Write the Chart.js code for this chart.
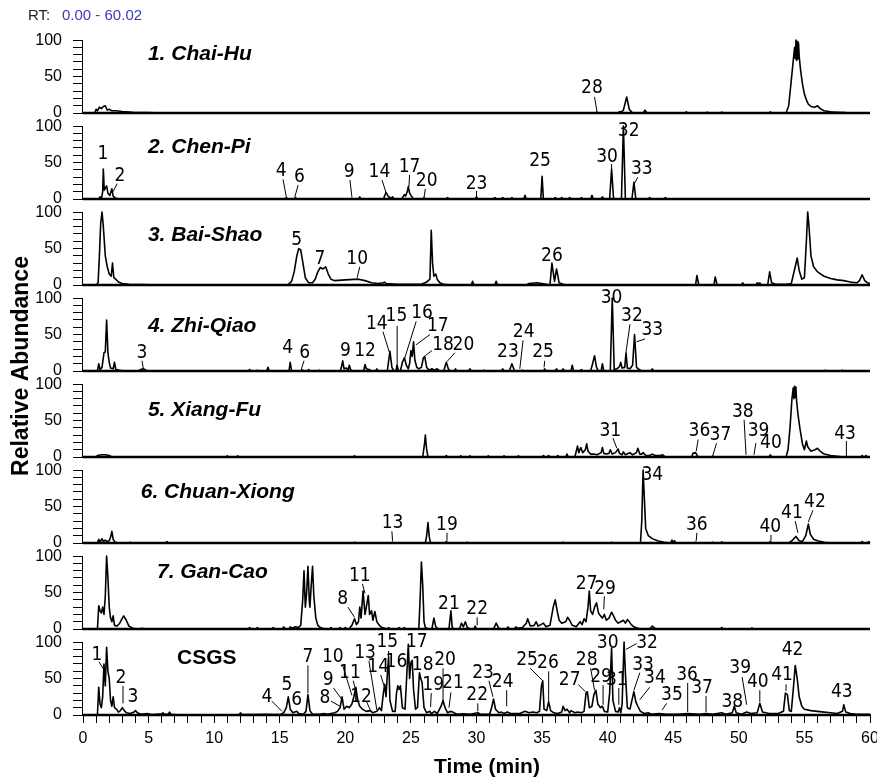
<!DOCTYPE html>
<html>
<head>
<meta charset="utf-8">
<script src="https://cdn.jsdelivr.net/npm/chart.js@4"></script>
<style>
  html, body { margin: 0; padding: 0; background: #fff; }
  #wrap { position: relative; width: 877px; height: 780px; }
</style>
</head>
<body>
<div id="wrap"><canvas id="chart" width="877" height="780"></canvas></div>
<script>
// panels from top to bottom
const panelNames = ['1. Chai-Hu', '2. Chen-Pi', '3. Bai-Shao', '4. Zhi-Qiao', '5. Xiang-Fu', '6. Chuan-Xiong', '7. Gan-Cao', 'CSGS']

// tick labels
const timeLabels = [0, 5, 10, 15, 20, 25, 30, 35, 40, 45, 50, 55, 60]
const abundanceLabels = [0, 50, 100]

// traces: [time (min), relative abundance (%)]
const chaiHu = [[0,0],[0.9,0],[1.0,5],[1.1,3],[1.25,8],[1.4,6],[1.55,9],[1.7,10],[1.85,4],[2.0,5],[2.2,3],[2.5,3],[3.0,2],[3.8,1],[5.0,0.5],[6.0,0],
  [39.1,0],[39.2,1],[39.3,0],[40.8,0],[40.9,2],[41.0,1],[41.2,4],[41.45,22],[41.65,5],[41.9,0],[42.7,0],[42.85,4],[43.0,0],
  [45.9,0],[46.0,1.5],[46.1,0],[47.5,0],[47.6,1.2],[47.7,0],[48.6,0],[48.7,1.2],[48.8,0],[52.3,0],[52.4,1.5],[52.5,0],
  [53.6,0],[53.8,10],[54.0,45],[54.15,72],[54.25,90],[54.3,75],[54.35,100],[54.4,72],[54.45,98],[54.5,74],[54.55,96],[54.6,78],[54.7,60],[54.85,40],[55.0,26],[55.15,18],[55.3,12],[55.5,9],[55.8,8],[56.0,10],[56.2,6],[56.5,3],[57.0,1.5],[57.5,1],[58.2,0.5],[60,0]]

const chenPi = [[0,0],[1.2,0],[1.3,3],[1.4,0],[1.5,10],[1.55,41],[1.62,12],[1.7,15],[1.8,18],[1.9,8],[2.05,5],[2.2,14],[2.3,4],[2.5,1],[2.8,0],
  [15.4,0],[15.5,2],[15.6,0],[16.1,0],[16.2,2],[16.3,0],[20.4,0],[20.5,1],[20.6,0],[21.0,0],[21.1,3],[21.2,0],
  [22.9,0],[23.1,9],[23.3,3],[23.5,1],[23.6,3],[23.7,0],[24.3,0],[24.5,6],[24.6,4],[24.75,12],[24.8,17],[24.9,8],[25.0,5],[25.2,0],
  [25.9,0],[26.0,2],[26.1,0],[27.7,0],[27.8,2],[27.9,0],[29.9,0],[30.0,3],[30.1,0],
  [31.3,0],[31.4,2],[31.5,0],[31.9,0],[32.0,2],[32.1,0],[32.6,0],[32.7,2],[32.8,0],[33.6,0],[33.7,5],[33.8,0],
  [34.9,0],[35.0,31],[35.1,0],[35.9,0],[36.0,2],[36.1,0],[36.4,0],[36.5,2],[36.6,0],[37.0,0],[37.1,2],[37.2,0],[37.9,0],[38.0,2],[38.1,0],[38.7,0],[38.8,5],[38.9,0],[39.5,0],[39.6,3],[39.7,0],
  [40.15,0],[40.3,41],[40.45,0],[41.05,0],[41.2,100],[41.35,0],[41.85,0],[42.0,23],[42.15,0],
  [43.1,0],[43.2,2],[43.3,0],[44.3,0],[44.4,2],[44.5,0],[60,0]]

const baiShao = [[0,0],[1.0,0],[1.15,3],[1.25,40],[1.35,85],[1.45,100],[1.55,80],[1.7,40],[1.85,25],[2.0,15],[2.15,12],[2.25,30],[2.35,10],[2.5,8],[2.7,4],[3.0,2],[3.5,1],[4.5,0.5],[6.0,0],
  [15.6,0],[15.9,5],[16.1,18],[16.3,40],[16.45,50],[16.6,48],[16.75,32],[16.95,10],[17.2,3],[17.5,3],[17.7,8],[17.9,18],[18.1,24],[18.3,22],[18.5,25],[18.7,15],[18.9,8],[19.2,6],[20.0,7],[21.0,8],[21.5,6],[22.0,3],[22.5,2],[22.9,3],[23.0,4],[23.1,2],[24.0,1],[25.0,1],[25.8,1],[26.2,4],[26.45,8],
  [26.55,75],[26.65,30],[26.75,12],[26.9,15],[27.0,8],[27.2,3],[27.5,1],[28.0,0],
  [29.6,0],[29.7,5],[29.8,0],[31.4,0],[31.5,5],[31.6,0],[33.8,0],[34.0,2],[34.6,3],[35.0,2],[35.3,1],[35.6,0],[35.75,30],[35.95,5],[36.1,22],[36.3,3],[36.6,1],[37.0,0],
  [46.7,0],[46.8,13],[46.95,0],[48.1,0],[48.2,11],[48.35,0],[50.2,0],[50.3,3],[50.4,0],[51.3,0],[51.4,3],[51.5,1.5],[51.6,3],[51.7,0],
  [52.2,0],[52.35,18],[52.5,3],[52.8,1],[53.6,1],[54.0,2],[54.3,25],[54.45,37],[54.6,20],[54.8,8],[55.0,10],[55.15,60],[55.25,100],[55.35,80],[55.5,40],[55.7,25],[56.0,18],[56.5,12],[57.0,9],[57.5,7],[58.0,6],[58.5,4],[59.0,3],[59.2,6],[59.4,14],[59.6,6],[59.8,3],[60,2]]

const zhiQiao = [[0,0],[1.1,0],[1.2,10],[1.3,2],[1.45,5],[1.6,25],[1.7,26],[1.8,70],[1.9,25],[2.0,12],[2.1,4],[2.3,3],[2.4,12],[2.5,2],[2.8,1],[3.2,0],
  [4.2,0],[4.4,2],[4.6,3],[4.8,1],[5.0,0],[12.6,0],[12.7,2],[12.8,0],[13.2,0],[13.3,1],[13.4,0],[14.0,0],[14.1,5],[14.2,0],
  [15.7,0],[15.8,12],[15.9,0],[16.6,0],[16.7,2],[16.8,0],[17.1,0],[17.2,2],[17.3,0],[17.9,0],[18.0,1],[18.1,0],
  [19.6,0],[19.7,5],[19.8,14],[19.9,3],[20.1,4],[20.2,0],[20.3,8],[20.4,2],[20.5,0],[21.4,0],[21.5,9],[21.6,3],[21.8,2],[22.0,0],[22.3,0],[22.4,3],[22.5,0],
  [23.2,0],[23.4,27],[23.55,5],[23.7,0],[23.85,0],[23.95,8],[24.05,0],[24.2,0],[24.35,12],[24.5,18],[24.65,8],[24.8,3],
  [24.9,10],[25.0,28],[25.1,20],[25.2,40],[25.3,15],[25.45,5],[25.6,3],[25.8,5],[25.95,18],[26.05,20],[26.2,5],[26.4,1],[26.6,3],[26.8,1],[27.0,3],[27.2,0],
  [27.5,0],[27.7,12],[27.85,3],[28.0,0],[28.3,0],[28.4,3],[28.5,0],[29.4,0],[29.5,3],[29.6,0],[30.5,0],[30.6,1],[30.7,0],
  [31.9,0],[32.0,3],[32.1,0],[32.5,0],[32.7,10],[32.9,0],[33.4,0],[33.5,1],[33.6,0],
  [35.1,0],[35.2,3],[35.3,0],[36.0,0],[36.1,3],[36.2,0],[36.5,0],[36.6,3],[36.7,0],[37.2,0],[37.3,8],[37.4,0],[37.9,0],[38.0,2],[38.1,0],
  [38.7,0],[38.85,10],[39.0,21],[39.15,5],[39.3,0],[39.5,0],[39.6,10],[39.7,0],
  [40.2,0],[40.35,100],[40.5,2],[40.7,3],[40.9,6],[41.0,12],[41.1,4],[41.3,5],[41.4,25],[41.5,4],[41.7,3],[41.9,8],[42.05,50],[42.2,5],[42.4,2],[42.6,0],
  [43.3,0],[43.4,3],[43.5,0],[56.5,0],[56.6,1],[56.7,0],[57.8,0],[57.9,1],[58.0,0],[60,0]]

const xiangFu = [[0,0],[1.0,0],[1.1,2],[1.4,3],[1.7,3],[2.0,2],[2.2,0],
  [10.9,0],[11.0,1.5],[11.1,0],[11.7,0],[11.8,1.5],[11.9,0],[20.6,0],[20.7,1.5],[20.8,0],
  [25.9,0],[26.05,20],[26.1,30],[26.2,10],[26.3,0],
  [27.6,0],[27.7,2],[27.8,0],[28.7,0],[28.8,1.5],[28.9,0],[29.4,0],[29.5,1.5],[29.6,0],[30.8,0],[30.9,1.5],[31.0,0],[32.0,0],[32.1,1.5],[32.2,0],[33.1,0],[33.2,1.5],[33.3,0],
  [35.0,0],[35.1,2],[35.2,0],[35.4,0],[35.5,2],[35.6,0],[36.1,0],[36.2,2],[36.3,0],[36.8,0],[36.9,4],[37.0,0],
  [37.5,0],[37.7,15],[37.8,6],[37.95,13],[38.1,6],[38.3,10],[38.4,18],[38.5,8],[38.7,4],[38.9,4],[39.2,3],[39.5,6],[39.6,13],[39.7,5],[39.9,4],[40.1,5],[40.2,10],[40.35,4],[40.6,6],[40.8,11],[40.9,5],[41.1,3],[41.2,7],[41.35,3],[41.6,5],[41.7,6],[41.9,3],[42.2,6],[42.3,12],[42.45,4],[42.6,4],[42.7,6],[42.9,2],[43.2,2],[43.4,4],[43.6,2],[44.0,2],[44.2,3],[44.4,0],
  [46.4,0],[46.5,5],[46.7,6],[46.9,0],[47.9,0],[48.0,1],[48.1,0],[52.3,0],[52.4,3],[52.5,0],
  [53.6,0],[53.75,10],[53.9,40],[54.05,80],[54.15,95],[54.2,80],[54.25,97],[54.3,82],[54.35,96],[54.4,78],[54.5,60],[54.65,40],[54.85,18],[55.0,10],[55.15,22],[55.25,14],[55.5,8],[55.8,10],[56.0,12],[56.2,8],[56.5,4],[57.0,2],[57.5,1],[58.0,0],
  [59.3,0],[59.4,2],[59.5,0],[59.6,0],[59.7,2],[59.8,0],[60,0]]

const chuanXiong = [[0,0],[1.1,0],[1.2,5],[1.3,1],[1.45,6],[1.55,2],[1.7,4],[1.85,2],[2.0,3],[2.1,8],[2.2,16],[2.3,5],[2.45,1],[2.7,0],
  [3.5,0],[3.6,1],[3.7,0],[6.3,0],[6.4,2],[6.5,0],[20.6,0],[20.7,1],[20.8,0],[23.5,0],[23.6,1],[23.7,0],
  [26.1,0],[26.2,10],[26.3,28],[26.4,8],[26.5,0],
  [27.6,0],[27.7,2],[27.8,0],[29.2,0],[29.3,1],[29.4,0],[36.5,0],[36.6,1],[36.7,0],[40.2,0],[40.3,1],[40.4,0],
  [42.5,0],[42.6,30],[42.7,100],[42.8,60],[42.9,20],[43.1,10],[43.4,6],[43.8,3],[44.3,1],[44.8,0],[44.9,4],[45.0,1],[45.1,3],[45.2,0],
  [46.6,0],[46.7,1],[46.8,0],[47.9,0],[48.0,1],[48.1,0],[48.6,0],[48.7,1.5],[48.8,0],[52.3,0],[52.4,2],[52.5,0],
  [53.8,0],[54.1,4],[54.35,9],[54.6,3],[54.85,2],[55.1,10],[55.3,26],[55.45,12],[55.7,5],[56.0,3],[56.5,1],[57.0,0],
  [59.3,0],[59.4,2],[59.5,0],[59.8,0],[59.9,2],[60,0]]

const ganCao = [[0,0],[1.1,0],[1.2,32],[1.3,25],[1.4,22],[1.5,30],[1.6,20],[1.7,45],[1.8,100],[1.9,70],[2.0,30],[2.1,15],[2.2,10],[2.3,18],[2.4,5],[2.6,4],[2.8,8],[3.0,15],[3.1,18],[3.3,12],[3.5,4],[3.8,1],[4.2,0],[4.5,1],[4.7,0],
  [12.6,0],[12.7,2],[12.8,0],[13.2,0],[13.3,2],[13.4,0],[14.4,0],[14.5,2],[14.6,0],[15.2,0],[15.3,3],[15.4,0],[15.7,0],[15.8,3],[15.9,1],[16.2,3],[16.4,2],
  [16.6,5],[16.75,40],[16.85,80],[16.95,30],[17.05,50],[17.15,86],[17.25,40],[17.3,30],[17.4,60],[17.5,86],[17.6,45],[17.75,15],[17.9,5],[18.1,2],[18.4,0],
  [18.8,0],[18.9,2],[19.0,0],[19.5,0],[19.6,2],[19.7,0],[19.9,0],[20.0,2],[20.1,0],[20.3,0],[20.4,3],[20.5,5],
  [20.7,14],[20.85,6],[21.0,10],[21.1,30],[21.2,15],[21.35,52],[21.5,20],[21.6,30],[21.75,46],[21.85,20],[22.0,25],[22.1,12],[22.25,24],[22.4,10],[22.6,5],[22.8,2],[23.0,1],
  [23.2,0],[23.3,2],[23.4,0],[24.0,0],[24.1,2],[24.2,0],[24.4,0],[24.5,2],[24.6,0],
  [25.6,0],[25.7,40],[25.8,92],[25.9,60],[26.0,10],[26.1,2],[26.3,0],[26.6,0],[26.75,15],[26.9,3],[27.1,0],
  [27.9,0],[28.05,25],[28.15,2],[28.3,0],[28.7,0],[28.85,8],[29.0,3],[29.15,10],[29.3,2],[29.5,0],[29.8,0],[29.9,4],[30.0,0],
  [31.3,0],[31.5,8],[31.7,1],[32.0,0],[32.3,0],[32.4,3],[32.5,0],[32.9,0],[33.0,3],[33.1,1],[33.5,2],[33.8,8],[33.9,14],[34.1,4],[34.4,5],[34.55,10],[34.7,4],[34.9,6],[35.1,8],[35.3,3],[35.6,5],
  [35.85,30],[36.0,40],[36.15,25],[36.3,12],[36.5,8],[36.8,10],[36.95,16],[37.1,12],[37.3,5],[37.6,3],[37.9,10],[38.05,6],[38.2,14],[38.35,10],
  [38.5,30],[38.6,52],[38.7,25],[38.85,20],[39.0,30],[39.15,36],[39.3,22],[39.45,18],[39.6,15],[39.75,20],[39.9,12],[40.1,15],[40.3,23],[40.45,18],[40.6,12],[40.8,8],[41.0,10],[41.2,12],[41.35,8],[41.5,13],[41.65,10],[41.8,6],[42.0,3],[42.3,1],[42.6,0],
  [43.2,0],[43.4,4],[43.6,1],[43.8,0],[48.6,0],[48.7,2],[48.8,0],[50.9,0],[51.0,1.5],[51.1,0],[60,0]]

const csgs = [[0,0],[1.1,0],[1.2,38],[1.3,15],[1.4,10],[1.5,25],[1.6,70],[1.7,40],[1.8,93],[1.9,60],[2.0,50],[2.1,20],[2.2,12],[2.3,25],[2.4,10],[2.55,8],[2.7,4],[2.85,6],[3.0,10],[3.15,6],[3.3,3],[3.6,2],[3.9,4],[4.0,6],[4.15,3],[4.4,1],[4.9,2],[5.2,0.5],[5.6,1],[6.0,1.5],[6.1,3],[6.2,1],[6.5,1],[6.6,4],[6.7,1],[7.0,0.5],[8.0,0],
  [11.9,0],[12.0,3],[12.1,0.5],[13.0,0.5],[14.0,1],[14.5,0.5],[15.1,1],[15.3,3],[15.5,10],[15.65,25],[15.8,8],[16.0,3],[16.3,5],[16.45,2],[16.8,1],[17.0,5],[17.15,28],[17.3,6],[17.5,1],[18.0,1],[18.4,2],[18.6,1],
  [19.2,3],[19.4,5],[19.6,10],[19.75,25],[19.9,8],[20.1,12],[20.3,10],[20.5,15],[20.65,25],[20.8,38],[20.95,20],[21.1,12],[21.3,8],[21.6,5],[21.9,6],[22.1,3],[22.4,5],[22.6,10],[22.75,6],
  [22.9,30],[23.0,42],[23.1,25],[23.2,55],[23.3,80],[23.4,20],[23.6,5],[23.8,5],[23.9,30],[24.0,40],[24.1,35],[24.2,40],[24.35,10],[24.55,8],[24.7,60],[24.8,97],[24.9,50],[25.0,72],[25.1,75],[25.2,35],[25.35,8],[25.5,10],[25.65,58],[25.75,50],[25.85,45],[26.0,10],[26.2,3],
  [26.45,5],[26.55,2],[26.8,5],[27.0,2],[27.3,12],[27.45,20],[27.6,10],[27.8,3],[28.0,5],[28.2,4],[28.5,1],[29.0,1.5],[29.5,1],[30.1,3],[30.3,1],[31.0,1],[31.15,10],[31.3,22],[31.45,8],[31.7,3],[31.9,4],[32.1,2],[32.35,4],[32.6,2],[33.0,2],[33.3,2],[33.7,5],[34.0,3],[34.3,4],[34.6,3],[34.8,5],
  [34.95,40],[35.05,47],[35.15,8],[35.35,6],[35.5,18],[35.65,6],[35.9,3],[36.2,2],[36.5,4],[36.6,12],[36.75,6],[36.9,8],[37.1,3],[37.2,6],[37.5,3],[37.7,4],[38.0,3],[38.2,5],[38.35,30],[38.45,32],[38.6,10],[38.8,12],[38.95,28],[39.1,34],[39.25,15],[39.45,10],[39.6,12],[39.75,5],[40.0,4],
  [40.15,30],[40.3,92],[40.4,20],[40.6,5],[40.8,4],[40.9,10],[41.0,3],[41.1,15],[41.25,100],[41.35,58],[41.5,10],[41.7,8],[41.85,20],[42.0,32],[42.15,18],[42.3,12],[42.5,5],[42.8,2],[43.1,3],[43.3,1],[43.9,2],[44.5,1],[45.3,1],[46.1,2],[47.0,1],[47.5,2],[48.0,1],[48.7,3],[49.0,1],
  [49.5,3],[49.65,12],[49.8,3],[50.2,1],[50.6,4],[50.9,2],[51.4,3],[51.6,16],[51.8,4],[52.3,2],[53.0,2],[53.4,5],[53.55,30],[53.7,28],[53.85,6],[54.0,5],[54.15,35],[54.3,68],[54.45,50],[54.6,25],[54.8,12],[55.0,8],[55.5,6],[56.0,5],[56.5,4],[57.0,3],[57.5,2],[57.9,5],[58.0,14],[58.15,4],[58.5,2],[59.0,1],[60,1]]

// peak numbers: [text, time, abundance] plus optional leader [t1, a1, t2, a2]
const chaiHuPeaks = [['28', 38.8, 34, 39.0, 22, 39.2, 0]]
const chenPiPeaks = [['1', 1.52, 62], ['2', 2.82, 32, 2.6, 21, 2.29, 10], ['4', 15.1, 38, 15.25, 27, 15.5, 3], ['6', 16.5, 30, 16.4, 19, 16.15, 3],
  ['9', 20.3, 37, 20.35, 26, 20.5, 3], ['14', 22.6, 37, 22.8, 26, 23.1, 9], ['17', 24.9, 44, 24.9, 33, 24.85, 17], ['20', 26.2, 25, 26.1, 14, 26.0, 2],
  ['23', 30.0, 21, 30.0, 11, 30.0, 3], ['25', 34.85, 52], ['30', 39.95, 58, 40.3, 48, 40.3, 41], ['32', 41.6, 93], ['33', 42.6, 41, 42.3, 30, 42.0, 20]]
const baiShaoPeaks = [['5', 16.3, 61], ['7', 18.07, 36], ['10', 20.9, 36, 21.1, 25, 20.9, 10], ['26', 35.75, 40]]
const zhiQiaoPeaks = [['3', 4.5, 24, 4.5, 14, 4.6, 3], ['4', 15.6, 31], ['6', 16.9, 25, 16.85, 14, 16.65, 3], ['9', 20.0, 28], ['12', 21.5, 28],
  ['14', 22.4, 65, 22.87, 54, 23.35, 26], ['15', 23.9, 75, 23.95, 62, 23.95, 3], ['16', 25.85, 79, 25.4, 68, 24.5, 16], ['17', 27.05, 61, 26.45, 50, 25.4, 36],
  ['18', 27.45, 35, 26.6, 28, 26.1, 21], ['20', 29.0, 35, 28.35, 25, 27.75, 13], ['23', 32.4, 26], ['24', 33.6, 54, 33.55, 42, 33.3, 3],
  ['25', 35.07, 26, 35.2, 14, 35.15, 5], ['30', 40.3, 100], ['32', 41.85, 75, 41.7, 64, 41.4, 26], ['33', 43.4, 56, 42.85, 44, 42.2, 40]]
const xiangFuPeaks = [['31', 40.2, 36, 40.4, 26, 40.7, 12], ['36', 47.0, 35, 46.9, 24, 46.75, 8], ['37', 48.6, 30, 48.3, 19, 48.0, 1],
  ['38', 50.3, 62, 50.4, 51, 50.55, 3], ['39', 51.5, 36, 51.3, 19, 51.15, 3], ['40', 52.45, 19], ['43', 58.1, 32, 58.2, 22, 58.2, 1]]
const chuanXiongPeaks = [['13', 23.6, 27, 23.55, 16, 23.6, 3], ['19', 27.75, 25, 27.75, 14, 27.75, 3], ['34', 43.4, 93], ['36', 46.8, 25, 46.8, 14, 46.75, 3],
  ['40', 52.4, 22, 52.45, 11, 52.45, 3], ['41', 54.05, 41, 54.3, 30, 54.5, 14], ['42', 55.8, 56, 55.65, 45, 55.3, 29]]
const ganCaoPeaks = [['8', 19.8, 41, 20.2, 30, 20.7, 16], ['11', 21.1, 73, 21.3, 62, 21.5, 49], ['21', 27.9, 34], ['22', 30.05, 27, 30.05, 16, 30.05, 5],
  ['27', 38.4, 62], ['29', 39.8, 55, 39.75, 45, 39.7, 27]]
const csgsPeaks = [['1', 1.07, 82, 1.22, 73, 1.6, 62], ['2', 2.9, 51, 3.05, 40, 3.05, 16], ['3', 3.8, 25], ['4', 14.03, 25, 14.4, 19, 15.17, 5],
  ['5', 15.55, 41], ['6', 16.3, 21], ['7', 17.15, 79, 17.15, 68, 17.15, 30], ['8', 18.45, 23, 18.9, 19, 19.6, 12], ['9', 18.7, 48, 19.1, 37, 19.75, 21],
  ['10', 19.05, 79, 19.8, 68, 20.5, 27], ['11', 20.35, 58, 20.6, 47, 20.8, 33], ['12', 21.2, 25, 21.6, 19, 21.9, 7], ['13', 21.5, 85, 21.8, 74, 22.4, 7],
  ['14', 22.5, 66, 22.7, 55, 22.95, 40], ['15', 23.2, 100, 23.3, 88, 23.3, 80], ['16', 23.9, 73], ['17', 25.45, 100], ['18', 25.9, 68],
  ['19', 26.7, 41, 26.55, 30, 26.5, 11], ['20', 27.6, 75, 27.45, 64, 27.45, 20], ['21', 28.2, 44, 28.05, 31, 27.9, 10], ['22', 30.05, 27, 30.1, 16, 30.1, 5],
  ['23', 30.5, 58, 30.95, 47, 31.25, 25], ['24', 32.0, 45, 32.3, 34, 32.3, 12], ['25', 33.85, 75, 34.1, 64, 35.0, 48], ['26', 35.45, 71, 35.5, 60, 35.5, 19],
  ['27', 37.1, 48, 37.75, 42, 38.3, 32], ['28', 38.4, 75, 38.7, 64, 39.0, 34], ['29', 39.5, 52, 39.65, 41, 39.65, 14], ['30', 40.0, 99],
  ['31', 40.7, 48, 40.85, 37, 40.85, 14], ['32', 43.0, 99, 42.2, 98, 41.4, 90], ['33', 42.7, 68, 42.45, 58, 42.0, 34], ['34', 43.6, 51, 43.2, 38, 42.45, 21],
  ['35', 44.9, 27, 44.5, 16, 44.15, 7], ['36', 46.05, 55, 46.1, 44, 46.1, 4], ['37', 47.2, 37, 47.5, 26, 47.5, 4], ['38', 49.5, 18],
  ['39', 50.1, 64, 50.25, 52, 50.6, 14], ['40', 51.45, 45, 51.6, 34, 51.6, 18], ['41', 53.3, 55, 53.6, 42, 53.6, 33], ['42', 54.1, 89], ['43', 57.85, 32]]

const traces = [chaiHu, chenPi, baiShao, zhiQiao, xiangFu, chuanXiong, ganCao, csgs]
const peaks = [chaiHuPeaks, chenPiPeaks, baiShaoPeaks, zhiQiaoPeaks, xiangFuPeaks, chuanXiongPeaks, ganCaoPeaks, csgsPeaks]

// where each panel name sits, in (min, %)
const titleSpots = [[4.95, 81], [4.95, 71], [4.95, 68], [4.95, 61], [4.95, 64], [4.4, 70], [5.64, 78], [7.17, 78]]

const FONT = 'Arial, "Liberation Sans", sans-serif'
const NARROW = '"Liberation Sans Narrow", "Arial Narrow", "DejaVu Sans Condensed", Arial, sans-serif'

const scales = {
  x: {
    type: 'linear', position: 'bottom', min: 0, max: 60,
    ticks: { stepSize: 1, autoSkip: false, maxRotation: 0, padding: 6, color: '#000', font: { family: FONT, size: 16 },
      callback: v => timeLabels.includes(v) ? String(v) : '' },
    grid: { drawOnChartArea: false, tickLength: 8, color: '#000' },
    border: { display: true, color: '#000', width: 2 },
    afterFit: s => { s.height = 65; s.paddingLeft = 0; s.paddingRight = 0 }
  }
}
panelNames.forEach((name, i) => {
  scales['y' + i] = {
    type: 'linear', position: 'left', stack: 'panels', stackWeight: 1, weight: panelNames.length - i,
    min: 0, max: 118,
    afterBuildTicks: s => { s.ticks = s.ticks.filter(t => t.value <= 100) },
    ticks: { stepSize: 10, autoSkip: false, padding: 11, color: '#000', font: { family: FONT, size: 16 },
      callback: v => abundanceLabels.includes(v) ? String(v) : '' },
    grid: { drawOnChartArea: false, tickLength: 10, color: '#000' },
    border: { display: false },
    afterFit: s => { s.width = 83; s.paddingTop = 0; s.paddingBottom = 0 }
  }
})

// axes, panel names, peak numbers and titles
const overlay = {
  id: 'overlay',
  beforeDatasetsDraw (chart) {
    const { ctx, chartArea } = chart
    ctx.save()
    ctx.strokeStyle = '#000'
    panelNames.forEach((_, i) => {
      const y = chart.scales['y' + i]
      ctx.lineWidth = 1
      ctx.beginPath()
      ctx.moveTo(chartArea.left - 0.5, y.getPixelForValue(100))
      ctx.lineTo(chartArea.left - 0.5, y.getPixelForValue(0))
      ctx.stroke()
      ctx.lineWidth = 2.5
      ctx.beginPath()
      ctx.moveTo(chartArea.left, y.getPixelForValue(0))
      ctx.lineTo(chartArea.right, y.getPixelForValue(0))
      ctx.stroke()
    })
    ctx.restore()
  },
  afterDatasetsDraw (chart) {
    const { ctx } = chart
    const x = chart.scales.x
    ctx.save()
    ctx.fillStyle = '#000'
    ctx.strokeStyle = '#000'
    ctx.textBaseline = 'middle'
    panelNames.forEach((name, i) => {
      const y = chart.scales['y' + i]
      ctx.textAlign = 'left'
      ctx.font = (i === 7 ? 'bold ' : 'italic bold ') + '21px ' + FONT
      ctx.fillText(name, x.getPixelForValue(titleSpots[i][0]), y.getPixelForValue(titleSpots[i][1]))

      ctx.font = '19px ' + NARROW
      ctx.textAlign = 'center'
      ctx.lineWidth = 1
      peaks[i].forEach(p => {
        ctx.fillText(p[0], x.getPixelForValue(p[1]), y.getPixelForValue(p[2]))
        if (p.length > 3) {
          ctx.beginPath()
          ctx.moveTo(x.getPixelForValue(p[3]), y.getPixelForValue(p[4]))
          ctx.lineTo(x.getPixelForValue(p[5]), y.getPixelForValue(p[6]))
          ctx.stroke()
        }
      })
    })
    ctx.restore()
  },
  afterDraw (chart) {
    const { ctx } = chart
    ctx.save()
    ctx.textBaseline = 'middle'
    ctx.font = 'bold 21px ' + FONT
    ctx.fillStyle = '#000'
    ctx.textAlign = 'center'
    ctx.fillText('Time (min)', 487, 767)

    ctx.translate(22, 366)
    ctx.rotate(-Math.PI / 2)
    ctx.font = 'bold 23px ' + FONT
    ctx.fillText('Relative Abundance', 0, 0)
    ctx.restore()

    ctx.save()
    ctx.textBaseline = 'middle'
    ctx.textAlign = 'left'
    ctx.font = '15px ' + FONT
    ctx.fillStyle = '#222'
    ctx.fillText('RT:', 28, 16)
    ctx.fillStyle = '#3a3ac4'
    ctx.fillText('0.00 - 60.02', 62, 16)
    ctx.restore()
  }
}

new Chart(document.getElementById('chart'), {
  type: 'line',
  data: {
    datasets: traces.map((trace, i) => ({
      label: panelNames[i],
      data: trace,
      yAxisID: 'y' + i,
      borderColor: '#000',
      borderWidth: 1.6,
      borderJoinStyle: 'round',
      pointRadius: 0,
      tension: 0,
      clip: 6
    }))
  },
  options: {
    responsive: false,
    animation: false,
    devicePixelRatio: 1,
    layout: { padding: { top: 27, right: 7, left: 0, bottom: 0 } },
    plugins: { legend: { display: false }, tooltip: { enabled: false } },
    scales
  },
  plugins: [overlay]
})
</script>
</body>
</html>
